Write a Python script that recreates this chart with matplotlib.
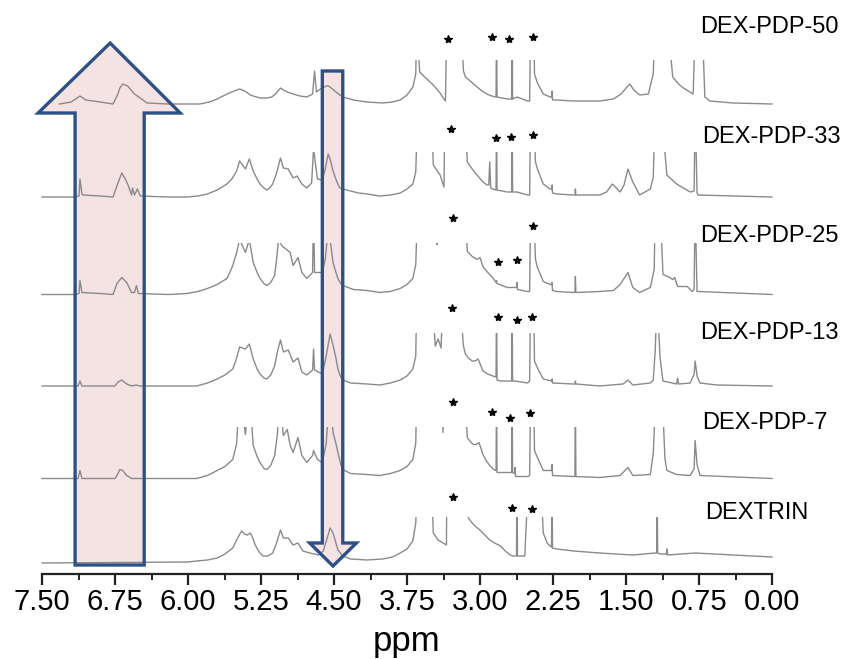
import matplotlib
matplotlib.use("Agg")
import matplotlib.pyplot as plt
from matplotlib.patches import Polygon, Rectangle
import numpy as np

plt.rcParams['font.family'] = ['Liberation Sans', 'DejaVu Sans']

# ---------------- data ----------------
labels = ["DEXTRIN", "DEX-PDP-7", "DEX-PDP-13", "DEX-PDP-25", "DEX-PDP-33", "DEX-PDP-50"]

# spectra: (ppm, intensity) pairs (intensity in px above baseline;
# values of 90 are peaks that run off the clipped top of each trace)
dextrin = [(7.50,0),(6.00,1),(5.91,2),(5.80,3),(5.70,5),(5.62,9),(5.54,15),(5.49,25),(5.45,32),
           (5.42,29),(5.39,28),(5.36,30),(5.33,24),(5.31,18),(5.27,11),(5.23,7),(5.18,7),(5.13,10),
           (5.09,20),(5.05,33),(5.02,25),(4.97,25),(4.92,18),(4.87,20),(4.82,12),(4.75,10),(4.70,9),
           (4.66,8),(4.61,12),(4.57,25),(4.54,35),(4.51,30),(4.48,20),(4.46,13),(4.41,7),(4.33,4),
           (4.16,3),(4.00,4),(3.90,6),(3.82,10),(3.75,14),(3.69,22),(3.66,40),(3.64,90),(3.50,90),
           (3.48,30),(3.43,23),(3.38,20),(3.345,18),(3.34,90),(3.14,90),(3.12,45),(3.08,40),
           (3.04,36),(3.00,33),(2.95,28),(2.90,23),(2.85,20),(2.79,17),(2.74,12),(2.69,8),(2.66,7),
           (2.625,7),(2.62,90),(2.615,7),(2.59,7),(2.54,7),(2.50,90),(2.38,90),(2.35,30),(2.31,20),
           (2.28,17),(2.265,16),(2.26,90),(2.255,15),(2.21,14),(2.12,13),(2.04,12),(1.77,10),
           (1.43,8),(1.20,10),(1.185,10),(1.18,90),(1.175,10),(1.15,9),(1.085,9),(1.08,14),
           (1.075,8),(0.79,10),(0.00,6)]

pdp7 = [(7.50,0),(7.13,0),(7.11,8),(7.09,0),(6.75,0),(6.73,3),(6.70,9),(6.67,8),(6.63,3),(6.58,0),
        (5.91,0),(5.80,3),(5.70,8),(5.62,12),(5.54,19),(5.50,35),(5.47,90),(5.41,44),(5.37,90),
        (5.33,33),(5.29,22),(5.26,16),(5.22,10),(5.19,9),(5.15,13),(5.11,23),(5.08,45),(5.07,90),
        (5.02,43),(4.98,49),(4.95,33),(4.92,26),(4.87,41),(4.83,23),(4.78,16),(4.72,23),(4.71,28),
        (4.67,19),(4.62,16),(4.58,35),(4.54,90),(4.51,46),(4.48,35),(4.46,26),(4.43,14),(4.41,9),
        (4.33,5),(4.16,4),(4.03,3),(3.92,5),(3.82,8),(3.75,12),(3.69,19),(3.66,35),(3.65,90),
        (3.39,90),(3.38,46),(3.37,90),(3.16,90),(3.13,41),(3.10,37),(3.07,34),(3.04,34),(3.01,36),
        (2.99,30),(2.97,24),(2.93,17),(2.90,13),(2.86,9),(2.835,8),(2.83,90),(2.825,6),(2.72,6),
        (2.675,6),(2.67,90),(2.665,6),(2.645,5),(2.64,11),(2.635,2),(2.51,2),(2.49,3),(2.48,90),
        (2.45,90),(2.44,28),(2.41,21),(2.35,8),(2.265,8),(2.26,14),(2.255,3),(2.04,2),(2.025,2),
        (2.02,90),(2.015,2),(1.77,1),(1.56,3),(1.48,11),(1.43,3),(1.25,4),(1.22,25),(1.19,90),
        (1.13,90),(1.10,20),(1.08,8),(0.98,4),(0.84,3),(0.80,10),(0.79,38),(0.77,14),(0.74,3),
        (0.00,0)]

pdp13 = [(7.50,0),(7.13,0),(7.11,5),(7.09,0),(6.75,0),(6.72,4),(6.68,6),(6.63,2),(6.58,0),(6.53,1),
         (6.50,0),(5.91,0),(5.80,3),(5.70,7),(5.62,11),(5.54,17),(5.50,28),(5.47,39),(5.41,37),
         (5.37,42),(5.33,27),(5.29,17),(5.26,12),(5.22,8),(5.19,7),(5.15,11),(5.11,20),(5.08,35),
         (5.05,46),(5.02,34),(4.97,36),(4.92,24),(4.87,28),(4.83,14),(4.78,11),(4.72,16),(4.71,37),
         (4.70,16),(4.66,14),(4.62,12),(4.58,30),(4.54,52),(4.51,41),(4.48,28),(4.46,17),(4.43,9),
         (4.41,6),(4.33,3),(4.16,2),(4.03,1),(3.92,3),(3.82,6),(3.75,10),(3.69,17),(3.66,30),
         (3.65,90),(3.49,90),(3.46,40),(3.43,47),(3.40,38),(3.38,90),(3.21,90),(3.17,40),(3.15,32),
         (3.12,28),(3.08,25),(3.05,25),(3.02,27),(2.99,20),(2.97,15),(2.92,12),(2.87,10),(2.835,9),
         (2.83,90),(2.825,6),(2.79,5),(2.675,5),(2.67,90),(2.665,5),(2.64,5),(2.51,3),(2.49,5),
         (2.48,90),(2.45,90),(2.44,25),(2.41,18),(2.35,7),(2.265,5),(2.26,7),(2.255,3),(2.04,2),
         (2.025,2),(2.02,5),(2.015,2),(1.77,0),(1.53,2),(1.48,6),(1.43,1),(1.25,3),(1.22,6),
         (1.20,35),(1.18,90),(1.15,28),(1.12,5),(0.98,2),(0.97,8),(0.96,2),(0.84,3),(0.80,12),
         (0.79,25),(0.77,10),(0.74,3),(0.57,1),(0.00,0)]

pdp25 = [(7.50,0),(7.16,0),(7.12,1),(7.11,14),(7.09,2),(6.90,1),(6.77,0),(6.73,11),(6.68,17),
         (6.63,12),(6.58,2),(6.55,2),(6.53,9),(6.51,1),(6.20,0),(6.01,1),(5.90,3),(5.80,6),
         (5.70,10),(5.60,16),(5.57,22),(5.54,29),(5.50,42),(5.47,55),(5.41,42),(5.37,55),(5.33,32),
         (5.29,22),(5.26,16),(5.22,11),(5.19,9),(5.15,12),(5.11,19),(5.09,35),(5.07,55),(5.03,48),
         (5.00,46),(4.95,42),(4.92,29),(4.87,37),(4.83,22),(4.78,16),(4.72,22),(4.71,90),(4.70,22),
         (4.66,22),(4.62,22),(4.59,35),(4.57,55),(4.54,55),(4.51,32),(4.48,22),(4.46,16),(4.43,11),
         (4.41,9),(4.30,5),(4.16,4),(4.03,2),(3.92,3),(3.82,6),(3.75,10),(3.69,16),(3.66,30),
         (3.64,90),(3.445,90),(3.44,50),(3.435,90),(3.16,90),(3.13,43),(3.10,40),(3.08,38),
         (3.03,35),(3.00,37),(2.97,28),(2.93,23),(2.87,17),(2.835,12),(2.83,14),(2.825,11),
         (2.72,7),(2.625,7),(2.62,12),(2.615,5),(2.51,3),(2.49,3),(2.48,90),(2.45,90),(2.43,35),
         (2.41,27),(2.35,13),(2.28,10),(2.265,10),(2.26,12),(2.255,4),(2.21,3),(2.04,2),(2.025,2),
         (2.02,18),(2.015,2),(1.77,3),(1.63,4),(1.56,10),(1.48,22),(1.43,7),(1.36,2),(1.25,7),
         (1.21,25),(1.20,90),(1.15,90),(1.12,20),(1.05,17),(1.02,15),(1.00,17),(0.97,8),(0.87,8),
         (0.82,3),(0.80,5),(0.79,90),(0.77,3),(0.76,3),(0.00,0)]

pdp33 = [(7.50,0),(7.16,0),(7.12,1),(7.11,18),(7.09,3),(7.08,2),(6.90,1),(6.77,0),(6.72,14),
         (6.68,24),(6.65,19),(6.62,13),(6.58,2),(6.57,9),(6.55,2),(6.52,8),(6.49,1),(6.20,0),
         (6.01,0),(5.90,1),(5.80,3),(5.70,7),(5.60,13),(5.55,18),(5.50,26),(5.47,36),(5.41,28),
         (5.37,38),(5.33,26),(5.29,18),(5.26,13),(5.22,9),(5.19,7),(5.16,9),(5.13,13),(5.09,24),
         (5.05,39),(5.02,29),(4.97,28),(4.92,19),(4.88,21),(4.83,13),(4.78,9),(4.73,14),(4.71,48),
         (4.67,18),(4.62,17),(4.59,28),(4.56,43),(4.54,38),(4.51,26),(4.47,15),(4.44,9),(4.37,7),
         (4.25,4),(4.16,3),(4.03,1),(3.92,2),(3.82,4),(3.75,8),(3.69,13),(3.66,25),(3.64,90),
         (3.50,90),(3.48,32),(3.41,22),(3.37,10),(3.36,90),(3.16,90),(3.13,35),(3.08,28),
         (3.03,22),(2.98,16),(2.93,12),(2.91,12),(2.90,35),(2.89,9),(2.87,8),(2.835,7),(2.83,90),
         (2.825,7),(2.72,5),(2.675,5),(2.67,90),(2.665,5),(2.62,5),(2.51,2),(2.49,2),(2.48,90),
         (2.45,90),(2.43,35),(2.41,28),(2.35,13),(2.28,8),(2.265,8),(2.26,12),(2.255,4),(2.21,3),
         (2.04,2),(2.025,2),(2.02,8),(2.015,2),(1.77,2),(1.70,5),(1.64,13),(1.61,10),(1.56,5),
         (1.52,12),(1.48,28),(1.45,20),(1.43,15),(1.36,2),(1.25,8),(1.22,20),(1.20,90),(1.14,90),
         (1.08,22),(0.98,13),(0.84,5),(0.80,6),(0.79,90),(0.77,4),(0.76,2),(0.00,0)]

pdp50 = [(7.32,0),(7.20,2),(7.11,8),(7.05,4),(6.90,2),(6.77,0),(6.72,10),(6.70,16),(6.67,20),
         (6.62,18),(6.55,10),(6.42,1),(6.20,0),(5.88,0),(5.78,2),(5.70,5),(5.62,9),(5.55,12),
         (5.50,14),(5.47,15),(5.44,14),(5.40,12),(5.36,9),(5.33,8),(5.26,6),(5.19,6),(5.14,7),
         (5.10,10),(5.05,16),(5.02,14),(4.98,12),(4.92,10),(4.85,8),(4.78,7),(4.72,10),(4.70,33),
         (4.68,12),(4.64,15),(4.58,18),(4.56,18),(4.54,17),(4.48,12),(4.41,7),(4.30,4),(4.16,2),
         (4.00,1),(3.90,2),(3.82,4),(3.75,9),(3.69,17),(3.66,30),(3.65,90),(3.62,32),(3.59,29),
         (3.48,19),(3.41,11),(3.37,5),(3.355,3),(3.34,90),(3.20,90),(3.17,33),(3.15,27),(3.10,23),
         (3.03,17),(2.98,13),(2.93,10),(2.88,8),(2.835,7),(2.83,90),(2.825,7),(2.72,5),(2.675,5),
         (2.67,90),(2.665,5),(2.62,7),(2.51,3),(2.49,3),(2.48,90),(2.45,90),(2.44,30),(2.41,21),
         (2.35,10),(2.28,7),(2.265,7),(2.26,13),(2.255,4),(2.21,4),(2.04,3),(1.77,3),(1.63,5),
         (1.55,10),(1.49,17),(1.46,20),(1.42,14),(1.36,9),(1.27,10),(1.22,30),(1.20,90),(1.08,90),
         (1.02,27),(0.96,20),(0.91,16),(0.81,10),(0.785,90),(0.72,90),(0.69,7),(0.64,3),(0.40,1),
         (0.00,0)]

spectra = [dextrin, pdp7, pdp13, pdp25, pdp33, pdp50]

# asterisks (ppm, height on the plot)
star_ppm = [[3.28, 2.67, 2.47],
            [3.28, 2.88, 2.69, 2.49],
            [3.29, 2.82, 2.62, 2.47],
            [3.28, 2.82, 2.62, 2.46],
            [3.30, 2.84, 2.68, 2.46],
            [3.33, 2.88, 2.70, 2.46]]
star_y = [[77, 66, 65],
          [172, 162, 156, 161],
          [266, 257, 254, 257],
          [356, 312, 314, 348],
          [445, 436, 437, 439],
          [535, 537, 535, 537]]

tick_values = [7.50, 6.75, 6.00, 5.25, 4.50, 3.75, 3.00, 2.25, 1.50, 0.75, 0.00]

# ---------------- layout / style ----------------
offsets = [11, 95.5, 188, 279.5, 377, 470]      # baseline of each trace
clip_h = [46, 52, 53, 52, 45, 44]               # trace height before it is cut off
label_pos = [(0.69, 61), (0.72, 151), (0.74, 241), (0.74, 338), (0.72, 437), (0.74, 547)]

W, H = 842, 659
fig = plt.figure(figsize=(W / 100, H / 100), dpi=100)
ax = fig.add_axes([42 / W, 85 / H, 730 / W, 574 / H])
ax.set_xlim(7.5, 0.0)
ax.set_ylim(0, 574)
for s in ['left', 'right', 'top']:
    ax.spines[s].set_visible(False)
ax.spines['bottom'].set_linewidth(1.6)
ax.spines['bottom'].set_color('#222222')
ax.set_yticks([])
ax.set_xticks(tick_values)
ax.set_xticklabels([f"{v:.2f}" for v in tick_values], fontsize=21)
ax.set_xticks([v + 0.375 for v in tick_values[1:]], minor=True)
ax.tick_params(axis='x', which='major', direction='out', length=8, width=1.6,
               color='#222222', pad=2)
ax.tick_params(axis='x', which='minor', direction='out', length=4, width=1.4,
               color='#222222')
fig.text(407 / W, 8 / H, "ppm", fontsize=25, ha='center', va='baseline')

# arrows (fill below traces, outline on top)
fill_c = '#f5e2e2'
edge_c = '#2d5187'
up_arrow = [(7.16, 9), (7.16, 461), (7.54, 461), (6.80, 531), (6.08, 461), (6.45, 461), (6.45, 9)]
down_arrow = [(4.62, 503), (4.62, 31), (4.75, 31), (4.51, 8), (4.27, 31), (4.41, 31), (4.41, 503)]
for verts in (up_arrow, down_arrow):
    ax.add_patch(Polygon(verts, closed=True, facecolor=fill_c, edgecolor='none',
                         zorder=1, clip_on=False))
    ax.add_patch(Polygon(verts, closed=True, fill=False, edgecolor=edge_c,
                         linewidth=2.4, joinstyle='miter', zorder=5, clip_on=False))

# traces
for spec, off, ch in zip(spectra, offsets, clip_h):
    ppm = np.array([p for p, _ in spec])
    inten = np.array([v for _, v in spec])
    line, = ax.plot(ppm, off + inten, color='#8a8a8a', lw=1.0, zorder=3)
    rect = Rectangle((-1, off - 40), 10, ch + 40, transform=ax.transData)
    line.set_clip_path(rect)

# asterisks
for xs, ys in zip(star_ppm, star_y):
    ax.plot(xs, ys, linestyle='none', marker='*', color='black', ms=6, zorder=4)

# labels
for lab, (lx, ly) in zip(labels, label_pos):
    ax.text(lx, ly, lab, fontsize=17, ha='left', va='center', clip_on=False)

fig.savefig("out.png", dpi=100)
